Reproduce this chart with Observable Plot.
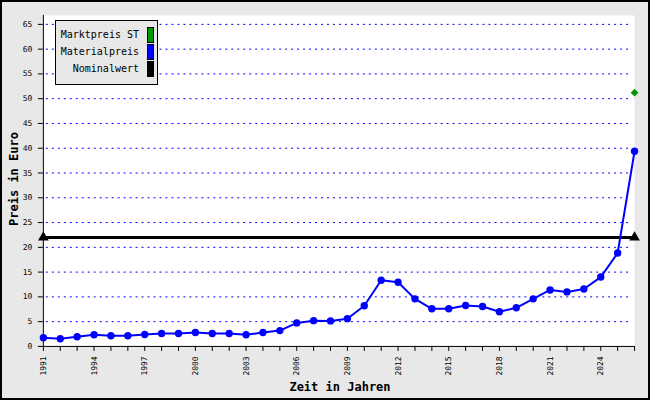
<!DOCTYPE html>
<html>
<head>
<meta charset="utf-8">
<script src="https://cdn.jsdelivr.net/npm/d3@7"></script>
<script src="https://cdn.jsdelivr.net/npm/@observablehq/plot@0.6"></script>
<style>
  html, body { margin: 0; padding: 0; background: #e8e8e8; }
  #wrap { position: relative; width: 650px; height: 400px; box-sizing: border-box; border: 2px solid #000; background: #e8e8e8; overflow: hidden; }
  #chart { position: absolute; left: -2px; top: -2px; }
  .ttl { position: absolute; font-family: "DejaVu Sans Mono", monospace; font-weight: bold; font-size: 12px; color: #000; white-space: nowrap; }
  #legend { position: absolute; left: 53px; top: 18px; width: 101px; height: 63px; background: #e8e8e8; border: 1px solid #000; font-family: "DejaVu Sans Mono", monospace; font-size: 10px; }
  #legend .row { position: absolute; right: 0; width: 101px; height: 16px; }
  #legend .lab { position: absolute; right: 18px; top: 2px; white-space: nowrap; }
  #legend .sw { position: absolute; right: 3px; top: 0; width: 5px; height: 14px; border: 1px solid #000; }
</style>
</head>
<body>
<div id="wrap">
  <div id="chart"></div>
  <div id="legend"></div>
  <div class="ttl" id="ytitle">Preis in Euro</div>
  <div class="ttl" id="xtitle">Zeit in Jahren</div>
</div>
<script>
const years = [1991,1992,1993,1994,1995,1996,1997,1998,1999,2000,2001,2002,2003,2004,2005,2006,2007,2008,2009,2010,2011,2012,2013,2014,2015,2016,2017,2018,2019,2020,2021,2022,2023,2024,2025,2026];
const materialpreis = [1.75,1.55,1.95,2.35,2.15,2.15,2.4,2.6,2.6,2.8,2.6,2.6,2.35,2.8,3.2,4.75,5.2,5.15,5.6,8.2,13.35,12.95,9.6,7.6,7.6,8.25,8.05,7.0,7.8,9.6,11.4,11.0,11.6,14.0,18.85,39.4];
const marktYears = [2026];
const marktpreisST = [51.2];
const nominalYears = [1991, 2026];
const nominalwert = [22, 22];
const yTicks = [0,5,10,15,20,25,30,35,40,45,50,55,60,65];
const xTickLabels = [1991,1994,1997,2000,2003,2006,2009,2012,2015,2018,2021,2024];
const legendLabels = ["Marktpreis ST", "Materialpreis", "Nominalwert"];
const legendColors = ["#009900", "#0000ff", "#000000"];

const mat = years.map((y, i) => ({year: y, v: materialpreis[i]}));
const markt = marktYears.map((y, i) => ({year: y, v: marktpreisST[i]}));
const nom = nominalYears.map((y, i) => ({year: y, v: nominalwert[i]}));

const chart = Plot.plot({
  width: 650,
  height: 400,
  marginLeft: 43,
  marginRight: 14,
  marginTop: 15,
  marginBottom: 53,
  style: {background: "transparent", fontFamily: "DejaVu Sans Mono, monospace", fontSize: "8px", color: "#000"},
  x: {domain: [1991, 2026]},
  y: {domain: [0, 66.8]},
  marks: [
    Plot.frame({fill: "white", stroke: null}),
    Plot.ruleY(yTicks.filter(d => d > 0), {stroke: "#0000ff", strokeWidth: 1, strokeDasharray: "2,4", insetLeft: 3, insetRight: 4}),
    Plot.axisY({ticks: yTicks, tickSize: 5, tickPadding: 6, label: null, tickFormat: d => d}),
    Plot.axisX({ticks: years, tickSize: 5, tickPadding: 5, tickRotate: -90, label: null,
      tickFormat: d => xTickLabels.includes(d) ? String(d) : ""}),
    Plot.ruleX([1991], {stroke: "#000", strokeWidth: 1}),
    Plot.ruleY([0], {stroke: "#000", strokeWidth: 1}),
    Plot.line(nom, {x: "year", y: "v", stroke: "#000", strokeWidth: 3}),
    Plot.dot(nom, {x: "year", y: "v", symbol: "triangle", fill: "#000", r: 4}),
    Plot.line(mat, {x: "year", y: "v", stroke: "#0000ff", strokeWidth: 2}),
    Plot.dot(mat, {x: "year", y: "v", fill: "#0000ff", r: 3.7}),
    Plot.dot(markt, {x: "year", y: "v", symbol: "diamond2", fill: "#009900", r: 3.5})
  ]
});
document.getElementById("chart").appendChild(chart);

const legend = document.getElementById("legend");
legendLabels.forEach((lab, i) => {
  const row = document.createElement("div");
  row.className = "row";
  row.style.top = (6 + i * 17) + "px";
  row.innerHTML = `<span class="lab">${lab}</span><span class="sw" style="background:${legendColors[i]}"></span>`;
  legend.appendChild(row);
});

const yt = document.getElementById("ytitle");
yt.style.left = "12px";
yt.style.top = "177px";
yt.style.transform = "translate(-50%, -50%) rotate(-90deg)";
const xt = document.getElementById("xtitle");
xt.style.left = "338px";
xt.style.top = "385px";
xt.style.transform = "translate(-50%, -50%)";
</script>
</body>
</html>
